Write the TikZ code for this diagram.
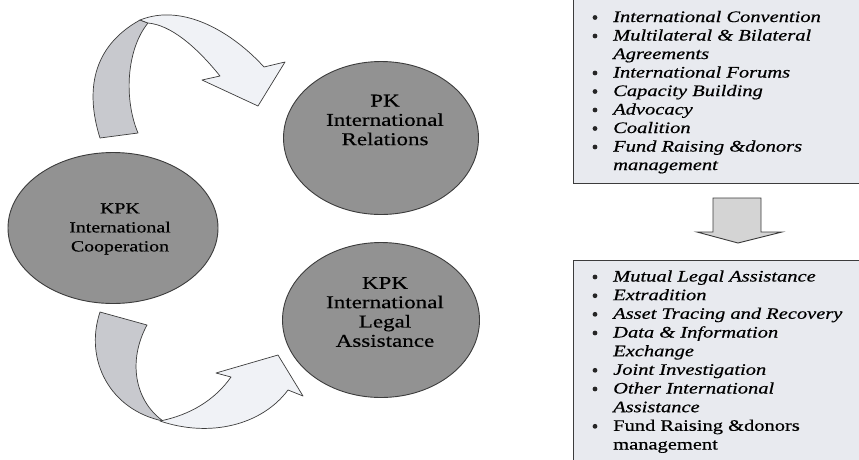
\documentclass[tikz,border=0pt]{standalone}
\usepackage{fontspec}
\setmainfont{Liberation Serif}
\newfontfamily\wfont{Liberation Serif}[FakeStretch=1.28, FakeBold=0.4]
\newfontfamily\lfont{Liberation Serif}[FakeStretch=1.28, FakeBold=0.5]
\usetikzlibrary{shapes.geometric}
\definecolor{ellfill}{RGB}{146,146,146}
\definecolor{boxfill}{RGB}{232,234,239}
\definecolor{backfill}{RGB}{200,201,206}
\definecolor{frontfill}{RGB}{240,242,246}
\definecolor{edge}{RGB}{60,60,60}
\tikzset{
  ell/.style={ellipse, draw=edge, line width=0.9pt, fill=ellfill, inner sep=0pt},
  elltext/.style={align=center, inner sep=0pt, anchor=center, font=\wfont\fontsize{18}{19.3}\selectfont},
  elltextL/.style={align=center, inner sep=0pt, anchor=center, font=\wfont\fontsize{15.5}{19}\selectfont},
  listbox/.style={draw=edge, line width=1.3pt, fill=boxfill, inner sep=0pt, anchor=north west},
  itemtxt/.style={anchor=base west, inner sep=0pt, font=\lfont\itshape\fontsize{16}{18}\selectfont},
  itemrm/.style={anchor=base west, inner sep=0pt, font=\lfont\fontsize{16}{18}\selectfont},
  bul/.style={circle, fill=black!85, inner sep=0pt, minimum size=4.8pt},
  back/.style={fill=backfill, draw=edge, line width=0.7pt, line join=round},
  front/.style={fill=frontfill, draw=edge, line width=0.7pt, line join=round},
  downarrow/.style={fill=black!17, draw=edge, line width=0.9pt, line join=miter},
}
\begin{document}
\begin{tikzpicture}[x=1pt, y=-1pt]
\useasboundingbox[fill=white] (0,0) rectangle (859,459);

% ellipses
\node[ell, minimum width=210pt, minimum height=151pt] (coop) at (113,228) {};
\node[ell, minimum width=195pt, minimum height=153pt] (pkir) at (381,138) {};
\node[ell, minimum width=197pt, minimum height=155pt] (kpkla) at (381,320) {};

\node[elltextL] (coopt) at (120,229) {KPK\\International\\Cooperation};
\node[elltext] (pkirt) at (385,120) {PK\\International\\Relations};
\node[elltext] (kpklat) at (385,312) {KPK\\International\\Legal\\Assistance};

% top curved arrow
\path[back] (100,138) .. controls (88,100) and (86,50) .. (140,20)
  -- (148,23) .. controls (126,50) and (124,100) .. (138,133) -- cycle;
\path[front] (140,20) .. controls (185,2) and (235,35) .. (264,67)
  -- (285,62) -- (258,106) -- (202,80) -- (220,76)
  .. controls (195,45) and (170,25) .. (148,23) -- cycle;

% bottom curved arrow
\path[back] (100,312) -- (147,325) .. controls (128,360) and (134,400) .. (163,421)
  .. controls (110,410) and (84,360) .. (100,312) -- cycle;
\path[front] (160,421) .. controls (210,438) and (262,425) .. (288,390)
  -- (303,396) -- (278,355) -- (216,373) -- (231,377)
  .. controls (215,400) and (190,415) .. (160,421) -- cycle;

% boxes
\node[listbox, minimum width=300pt, minimum height=186pt] (topbox) at (573,-3) {};
\node[listbox, minimum width=300pt, minimum height=210pt] (botbox) at (573,260) {};

% down arrow
\path[downarrow] (713,198) -- (761,198) -- (761,232) -- (782,232) -- (738,243)
  -- (697,232) -- (713,232) -- cycle;

% top list
\foreach \y/\b/\t [count=\i] in {
  22/1/International Convention,
  40.5/1/Multilateral \& Bilateral,
  59/0/Agreements,
  77.5/1/International Forums,
  96/1/Capacity Building,
  114.5/1/Advocacy,
  133/1/Coalition,
  151.5/1/Fund Raising \&donors,
  170/0/management}{
  \node[itemtxt] (ta\i) at (613,\y) {\t};
  \ifnum\b=1 \node[bul] (ba\i) at (595,\y-4.5) {};\fi
}
% bottom list
\foreach \y/\b/\t [count=\i] in {
  281.5/1/Mutual Legal Assistance,
  300.2/1/Extradition,
  318.8/1/Asset Tracing and Recovery,
  337.5/1/Data \& Information,
  356.2/0/Exchange,
  374.8/1/Joint Investigation,
  393.5/1/Other International,
  412.2/0/Assistance}{
  \node[itemtxt] (tb\i) at (613,\y) {\t};
  \ifnum\b=1 \node[bul] (bb\i) at (595,\y-4.5) {};\fi
}
\node[itemrm] (tb9) at (613,430.8) {Fund Raising \&donors};
\node[bul] (bb9) at (595,426.3) {};
\node[itemrm] (tb10) at (613,449.5) {management};
\end{tikzpicture}
\end{document}
